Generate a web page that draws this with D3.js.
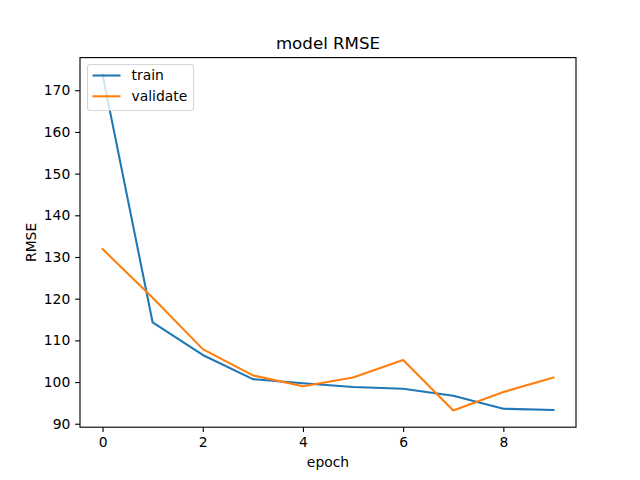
<!DOCTYPE html>
<html><head><meta charset="utf-8">
<script src="https://cdn.jsdelivr.net/npm/d3@7"></script>
<style>body{margin:0;background:#fff}svg{display:block;font-family:"DejaVu Sans",sans-serif}</style>
</head><body>
<svg id="c" width="640" height="480"></svg>
<script>
const epochs = [0,1,2,3,4,5,6,7,8,9];
const train = [173.8,114.3,106.5,100.7,99.7,98.8,98.4,96.7,93.6,93.3];
const validate = [131.9,120.2,107.9,101.6,99.0,101.1,105.3,93.2,97.6,101.1];
const xTicks = [0,2,4,6,8];
const yTicks = [90,100,110,120,130,140,150,160,170];
const seriesNames = ["train","validate"];
const colors = ["#1f77b4","#ff7f0e"];

const svg = d3.select("#c");
const L=80, R=576, T=57.6, B=427.2;
const allV = train.concat(validate);
const mn = d3.min(allV), mx = d3.max(allV), pad=(mx-mn)*0.05;
const x = d3.scaleLinear().domain([-0.45,9.45]).range([L,R]);
const y = d3.scaleLinear().domain([mn-pad,mx+pad]).range([B,T]);

svg.append("rect").attr("x",0).attr("y",0).attr("width",640).attr("height",480).attr("fill","#fff");

const fs = 13.89;
const xa = svg.append("g").attr("transform",`translate(0,${B})`)
  .call(d3.axisBottom(x).tickValues(xTicks).tickSize(4.86).tickPadding(4.86).tickFormat(d3.format("d")));
const ya = svg.append("g").attr("transform",`translate(${L},0)`)
  .call(d3.axisLeft(y).tickValues(yTicks).tickSize(4.86).tickPadding(4.86).tickFormat(d3.format("d")));
[xa,ya].forEach(g=>{
  g.select(".domain").remove();
  g.selectAll(".tick line").attr("stroke","#000").attr("stroke-width",1.11);
  g.selectAll(".tick text").attr("fill","#000").attr("font-size",fs).attr("font-family","DejaVu Sans");
});

const line = d3.line().x((d,i)=>x(epochs[i])).y(d=>y(d));
[train,validate].forEach((s,k)=>{
  svg.append("path").datum(s).attr("d",line).attr("fill","none")
    .attr("stroke",colors[k]).attr("stroke-width",2.08).attr("stroke-linejoin","round").attr("stroke-linecap","square");
});

svg.append("rect").attr("x",L).attr("y",T).attr("width",R-L).attr("height",B-T)
  .attr("fill","none").attr("stroke","#000").attr("stroke-width",1.11);

// legend
const lg = svg.append("g");
lg.append("rect").attr("x",87.5).attr("y",64.5).attr("width",106).attr("height",46).attr("rx",2.8)
  .attr("fill","#fff").attr("fill-opacity",0.8).attr("stroke","#ccc").attr("stroke-opacity",0.8).attr("stroke-width",1.11);
seriesNames.forEach((n,k)=>{
  const cy = 75.5 + k*20.8;
  lg.append("line").attr("x1",92.5).attr("x2",120.5).attr("y1",cy).attr("y2",cy)
    .attr("stroke",colors[k]).attr("stroke-width",2.08);
  lg.append("text").attr("x",131.5).attr("y",cy).attr("dy","0.35em").attr("font-size",fs).attr("fill","#000").text(n);
});

svg.append("text").attr("x",(L+R)/2).attr("y",49.3).attr("text-anchor","middle").attr("font-size",16.67).attr("fill","#000").text("model RMSE");
svg.append("text").attr("x",(L+R)/2).attr("y",467).attr("text-anchor","middle").attr("font-size",fs).attr("fill","#000").text("epoch");
svg.append("text").attr("transform",`translate(36,${(T+B)/2}) rotate(-90)`).attr("text-anchor","middle").attr("font-size",fs).attr("fill","#000").text("RMSE");
</script>
</body></html>
